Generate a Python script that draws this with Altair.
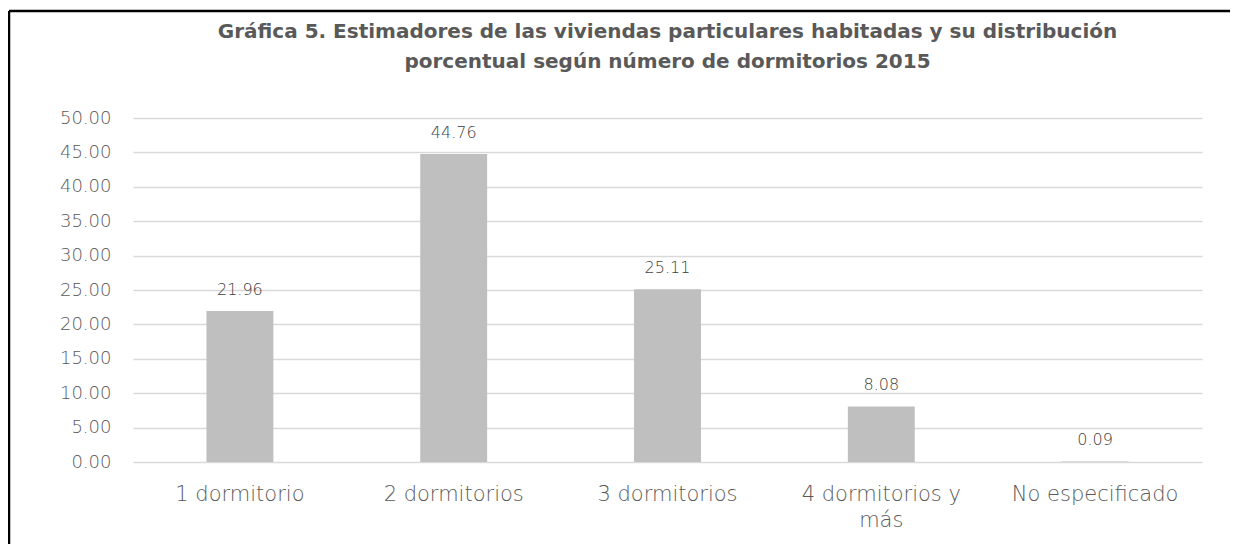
import altair as alt
import pandas as pd

categories = ["1 dormitorio", "2 dormitorios", "3 dormitorios", "4 dormitorios y más", "No especificado"]
values = [21.96, 44.76, 25.11, 8.08, 0.09]
labels = ["21.96", "44.76", "25.11", "8.08", "0.09"]
y_ticks = [0, 5, 10, 15, 20, 25, 30, 35, 40, 45, 50]

df = pd.DataFrame({"cat": categories, "val": values, "lbl": labels})

FONT = "DejaVu Sans"
GRAY = "#595959"

x_enc = alt.X(
    "cat:N",
    sort=categories,
    title=None,
    scale=alt.Scale(paddingInner=0.687, paddingOuter=0.3435),
    axis=alt.Axis(
        labelAngle=0,
        domain=False,
        ticks=False,
        grid=False,
        labelFontSize=21,
        labelFontWeight=300,
        labelColor=GRAY,
        labelFont=FONT,
        labelPadding=21,
        labelLineHeight=26,
        labelExpr="datum.label == '4 dormitorios y más' ? ['4 dormitorios y', 'más'] : datum.label",
    ),
)
y_enc = alt.Y(
    "val:Q",
    title=None,
    scale=alt.Scale(domain=[0, 50], nice=False),
    axis=alt.Axis(
        values=y_ticks,
        format=".2f",
        domain=False,
        ticks=False,
        labelOverlap=False,
        labelFontSize=18,
        labelFontWeight=300,
        labelColor=GRAY,
        labelFont=FONT,
        labelPadding=22,
        gridColor="#D9D9D9",
        gridWidth=1.5,
    ),
)

base = alt.Chart(df).encode(x=x_enc, y=y_enc)
bars = base.mark_bar(color="#BFBFBF")
text = base.mark_text(
    baseline="bottom", dy=-13, fontSize=16, fontWeight=300, font=FONT, color="#404040"
).encode(text="lbl:N")

border_data = alt.Data(values=[{"a": 1}])
top_border = alt.Chart(border_data).mark_rule(color="#000000", strokeWidth=2.5).encode(
    x=alt.value(-124), x2=alt.value(1110), y=alt.value(-107)
)
left_border = alt.Chart(border_data).mark_rule(color="#000000", strokeWidth=2.5).encode(
    x=alt.value(-124), y=alt.value(-107), y2=alt.value(440)
)

chart = (
    alt.layer(bars, text, top_border, left_border)
    .properties(
        width=1069,
        height=344,
        autosize=alt.AutoSizeParams(type="none"),
        padding={"left": 125, "top": 110, "right": 28, "bottom": 82},
        title=alt.TitleParams(
            text=[
                "Gráfica 5. Estimadores de las viviendas particulares habitadas y su distribución",
                "porcentual según número de dormitorios 2015",
            ],
            anchor="middle",
            frame="group",
            fontSize=20,
            fontWeight="bold",
            font=FONT,
            color=GRAY,
            lineHeight=30,
            offset=-62,
        ),
    )
    .configure(background="white")
    .configure_view(stroke="transparent", strokeWidth=0)
)

chart.save("out.html", embed_options={"renderer": "svg", "actions": False})
